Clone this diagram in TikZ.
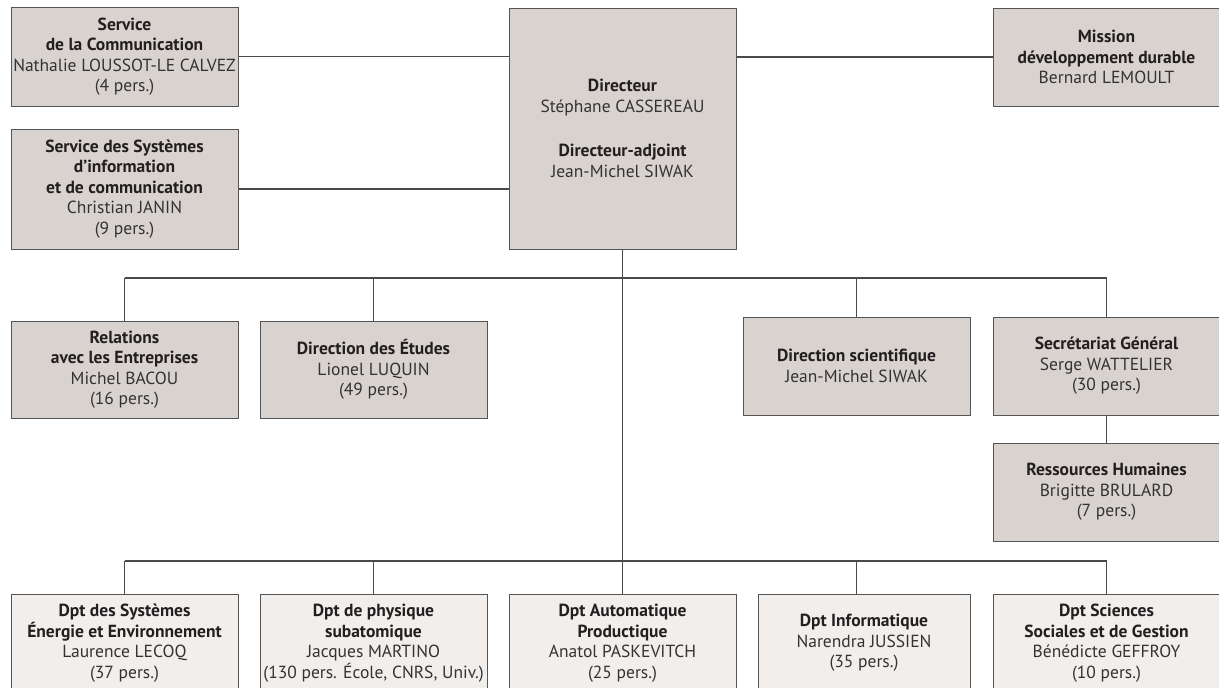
\documentclass[tikz,border=0pt]{standalone}
\usepackage{fontspec}
\setmainfont{PT Sans}
\definecolor{boxfill}{HTML}{D9D3D0}
\definecolor{deptfill}{HTML}{F1EEEC}
\definecolor{edge}{HTML}{555555}
\definecolor{wire}{HTML}{4A4A4A}
\definecolor{ink}{HTML}{231F20}
\definecolor{nameink}{HTML}{333333}
\newcommand{\ttl}[1]{{\bfseries\color{ink}#1}}
\begin{document}
\begin{tikzpicture}[x=1pt,y=-1pt,
  box/.style={draw=edge, line width=1pt, fill=boxfill, align=center,
    inner sep=0pt, minimum width=227pt, text=nameink,
    font=\fontsize{17.5}{20.5}\selectfont},
  dept/.style={box, fill=deptfill, minimum height=98pt},
  wireline/.style={draw=wire, line width=1.1pt}]
\useasboundingbox (0,0) rectangle (1219,688);

% upper level
\node[box, minimum height=99pt] (comm) at (124.5,56.5)
  {\ttl{Service}\\\ttl{de la Communication}\\Nathalie LOUSSOT-LE CALVEZ\\(4 pers.)};
\node[box, minimum height=120pt] (ssi) at (124.5,189)
  {\ttl{Service des Systèmes}\\\ttl{d'information}\\\ttl{et de communication}\\Christian JANIN\\(9 pers.)};
\node[box, minimum height=241pt] (dir) at (622.5,128.5)
  {\ttl{Directeur}\\Stéphane CASSEREAU\\[24pt]\ttl{Directeur-adjoint}\\Jean-Michel SIWAK};
\node[box, minimum height=98pt] (mis) at (1106.5,57)
  {\ttl{Mission}\\\ttl{développement durable}\\Bernard LEMOULT};

% services
\node[box, minimum height=97pt] (rel) at (124.5,369.5)
  {\ttl{Relations}\\\ttl{avec les Entreprises}\\Michel BACOU\\(16 pers.)};
\node[box, minimum height=97pt] (etu) at (373.5,369.5)
  {\ttl{Direction des Études}\\Lionel LUQUIN\\(49 pers.)};
\node[box, minimum height=98pt] (sci) at (856.5,366)
  {\ttl{Direction scientifique}\\Jean-Michel SIWAK};
\node[box, minimum height=98pt] (sg) at (1106.5,366)
  {\ttl{Secrétariat Général}\\Serge WATTELIER\\(30 pers.)};
\node[box, minimum height=98pt] (rh) at (1106.5,492)
  {\ttl{Ressources Humaines}\\Brigitte BRULARD\\(7 pers.)};

% departments
\node[dept] (d1) at (124.5,643)
  {\ttl{Dpt des Systèmes}\\\ttl{Énergie et Environnement}\\Laurence LECOQ\\(37 pers.)};
\node[dept] (d2) at (373.5,643)
  {\ttl{Dpt de physique}\\\ttl{subatomique}\\Jacques MARTINO\\(130 pers. École, CNRS, Univ.)};
\node[dept] (d3) at (622.5,643)
  {\ttl{Dpt Automatique}\\\ttl{Productique}\\Anatol PASKEVITCH\\(25 pers.)};
\node[dept, minimum width=212pt] (d4) at (864,643)
  {\ttl{Dpt Informatique}\\Narendra JUSSIEN\\(35 pers.)};
\node[dept] (d5) at (1106.5,643)
  {\ttl{Dpt Sciences}\\\ttl{Sociales et de Gestion}\\Bénédicte GEFFROY\\(10 pers.)};

% bus levels
\coordinate (busA) at (622.5,278);
\coordinate (busB) at (622.5,561);

% connectors
\path[wireline] (comm.east) -- (comm.east -| dir.west);
\path[wireline] (ssi.east) -- (ssi.east -| dir.west);
\path[wireline] (dir.east |- mis.west) -- (mis.west);
\path[wireline] (dir.south) -- (busB);
\path[wireline] (rel.north |- busA) -- (sg.north |- busA);
\path[wireline] (rel.north) -- (rel.north |- busA);
\path[wireline] (etu.north) -- (etu.north |- busA);
\path[wireline] (sci.north) -- (sci.north |- busA);
\path[wireline] (sg.north) -- (sg.north |- busA);
\path[wireline] (sg.south) -- (rh.north);
\path[wireline] (d1.north |- busB) -- (d5.north |- busB);
\path[wireline] (d1.north) -- (d1.north |- busB);
\path[wireline] (d2.north) -- (d2.north |- busB);
\path[wireline] (d3.north) -- (busB);
\path[wireline] (d4.north -| sci.south) -- (sci.south |- busB);
\path[wireline] (d5.north) -- (d5.north |- busB);
\end{tikzpicture}
\end{document}
